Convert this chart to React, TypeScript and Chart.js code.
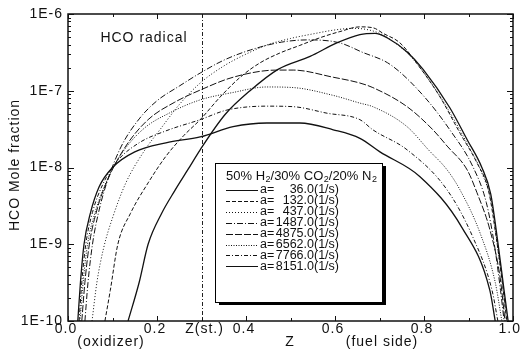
import React, { useEffect, useRef } from "react";
import { Chart, registerables } from "chart.js";

Chart.register(...registerables);

// ---- data (Z = mixture fraction, values = HCO mole fraction) ----
const strainLabels = ["36.0(1/s)", "132.0(1/s)", "437.0(1/s)", "1487.0(1/s)", "4875.0(1/s)", "6562.0(1/s)", "7766.0(1/s)", "8151.0(1/s)"];

const zA36 = [0.135, 0.16, 0.18, 0.21, 0.24, 0.27, 0.297, 0.353, 0.409, 0.472, 0.544, 0.604, 0.656, 0.69, 0.717, 0.762, 0.798, 0.858, 0.897, 0.93, 0.95, 0.966, 0.98, 0.989];
const vA36 = [1e-10, 3.2e-10, 1e-9, 2.5e-9, 5.0e-9, 9.5e-9, 1.7e-8, 4.9e-8, 1.0e-7, 1.9e-7, 2.8e-7, 4.2e-7, 5.4e-7, 5.6e-7, 4.9e-7, 3.2e-7, 1.9e-7, 6.0e-8, 2.3e-8, 1.0e-8, 4.5e-9, 1.05e-9, 2.5e-10, 1e-10];

const zA132 = [0.083, 0.095, 0.112, 0.14, 0.18, 0.22, 0.26, 0.297, 0.342, 0.387, 0.431, 0.476, 0.521, 0.566, 0.611, 0.656, 0.686, 0.708, 0.746, 0.791, 0.836, 0.881, 0.919, 0.945, 0.962, 0.976, 0.986];
const vA132 = [1e-10, 2.5e-10, 1e-9, 2.5e-9, 6.3e-9, 1.4e-8, 2.6e-8, 4.2e-8, 8.3e-8, 1.5e-7, 2.3e-7, 3.1e-7, 3.9e-7, 4.9e-7, 5.9e-7, 6.8e-7, 6.6e-7, 5.6e-7, 4.2e-7, 2.0e-7, 8.3e-8, 2.8e-8, 1.15e-8, 5.0e-9, 1.26e-9, 3.2e-10, 1e-10];

const zA437 = [0.054, 0.065, 0.08, 0.1, 0.13, 0.17, 0.21, 0.25, 0.297, 0.35, 0.4, 0.45, 0.5, 0.55, 0.6, 0.64, 0.67, 0.7, 0.73, 0.77, 0.82, 0.86, 0.9, 0.93, 0.953, 0.967, 0.978, 0.985];
const vA437 = [1e-10, 3.2e-10, 8.9e-10, 2.2e-9, 6.3e-9, 1.6e-8, 3.3e-8, 6.6e-8, 1.26e-7, 2.1e-7, 3.0e-7, 4.0e-7, 4.8e-7, 5.5e-7, 6.2e-7, 6.5e-7, 6.3e-7, 5.6e-7, 4.4e-7, 2.8e-7, 1.17e-7, 5.0e-8, 1.9e-8, 8.5e-9, 3.2e-9, 7.9e-10, 2.5e-10, 1e-10];

const zA1487 = [0.038, 0.045, 0.055, 0.07, 0.09, 0.12, 0.16, 0.2, 0.25, 0.297, 0.35, 0.41, 0.48, 0.54, 0.611, 0.66, 0.724, 0.798, 0.858, 0.91, 0.94, 0.958, 0.972, 0.98];
const vA1487 = [1e-10, 3.2e-10, 1e-9, 2.8e-9, 7.1e-9, 1.9e-8, 4.3e-8, 7.4e-8, 1.15e-7, 1.7e-7, 2.5e-7, 3.4e-7, 4.3e-7, 4.6e-7, 4.2e-7, 3.2e-7, 2.2e-7, 8.7e-8, 3.1e-8, 1.02e-8, 3.5e-9, 1e-9, 2.5e-10, 1e-10];

const zA4875 = [0.031, 0.038, 0.048, 0.065, 0.09, 0.13, 0.18, 0.24, 0.297, 0.371, 0.47, 0.506, 0.596, 0.656, 0.685, 0.762, 0.82, 0.852, 0.897, 0.919, 0.948, 0.971, 0.982];
const vA4875 = [1e-10, 3.2e-10, 1e-9, 2.8e-9, 7.1e-9, 1.9e-8, 4.2e-8, 7.1e-8, 1.02e-7, 1.5e-7, 1.86e-7, 1.86e-7, 1.5e-7, 1.26e-7, 1.1e-7, 6.2e-8, 3.1e-8, 1.9e-8, 9.3e-9, 4.7e-9, 1.55e-9, 3.7e-10, 1e-10];

const zA6562 = [0.027, 0.034, 0.044, 0.06, 0.085, 0.12, 0.17, 0.23, 0.297, 0.371, 0.447, 0.506, 0.596, 0.656, 0.685, 0.762, 0.81, 0.852, 0.881, 0.926, 0.96, 0.975];
const vA6562 = [1e-10, 3.2e-10, 1e-9, 2.5e-9, 6.3e-9, 1.5e-8, 3.2e-8, 5.2e-8, 7.6e-8, 9.5e-8, 1.12e-7, 1.1e-7, 8.7e-8, 6.9e-8, 6.2e-8, 3.4e-8, 1.7e-8, 9.3e-9, 5.1e-9, 1.4e-9, 3.2e-10, 1e-10];

const zA7766 = [0.025, 0.031, 0.04, 0.055, 0.078, 0.11, 0.16, 0.22, 0.297, 0.357, 0.447, 0.506, 0.582, 0.656, 0.685, 0.762, 0.852, 0.91, 0.953, 0.966];
const vA7766 = [1e-10, 3.2e-10, 1e-9, 2.6e-9, 6.0e-9, 1.2e-8, 2.1e-8, 3.0e-8, 4.2e-8, 5.6e-8, 6.3e-8, 6.2e-8, 5.1e-8, 4.2e-8, 3.1e-8, 1.7e-8, 5.1e-9, 1.23e-9, 2.5e-10, 1e-10];

const zA8151 = [0.022, 0.028, 0.036, 0.05, 0.07, 0.1, 0.15, 0.22, 0.297, 0.371, 0.447, 0.521, 0.596, 0.656, 0.701, 0.791, 0.885, 0.948, 0.96];
const vA8151 = [1e-10, 3.2e-10, 1e-9, 2.5e-9, 5.6e-9, 1.0e-8, 1.6e-8, 2.1e-8, 2.5e-8, 3.4e-8, 3.8e-8, 3.8e-8, 3.1e-8, 2.4e-8, 1.6e-8, 7.6e-9, 1.66e-9, 2.5e-10, 1e-10];

const xTickValues = [0, 0.2, 0.4, 0.6, 0.8, 1.0];
const xTickLabels = ["0.0", "0.2", "0.4", "0.6", "0.8", "1.0"];
const yTickValues = [1e-6, 1e-7, 1e-8, 1e-9, 1e-10];
const yTickLabels = ["1E-6", "1E-7", "1E-8", "1E-9", "1E-10"];
const Z_ST = 0.3;

const seriesZ = [zA36, zA132, zA437, zA1487, zA4875, zA6562, zA7766, zA8151];
const seriesV = [vA36, vA132, vA437, vA1487, vA4875, vA6562, vA7766, vA8151];
const dashes: number[][] = [[], [4, 2], [1, 2], [6, 2, 1, 2], [7, 2], [1, 1.5], [4, 2, 1, 2], []];

const FONT = "'Liberation Sans', Arial, sans-serif";

const decor = {
  id: "decor",
  beforeDatasetsDraw(chart: any) {
    const { ctx, chartArea: a, scales } = chart;
    const px = scales.x.getPixelForValue(Z_ST);
    ctx.save();
    ctx.strokeStyle = "#222";
    ctx.lineWidth = 1;
    ctx.setLineDash([4, 2, 1, 2]);
    ctx.beginPath();
    ctx.moveTo(Math.round(px) + 0.5, a.top);
    ctx.lineTo(Math.round(px) + 0.5, a.bottom);
    ctx.stroke();
    ctx.restore();
  },
  afterDraw(chart: any) {
    const { ctx, chartArea: a, scales } = chart;
    const xs = scales.x, ys = scales.y;
    ctx.save();
    ctx.setLineDash([]);
    ctx.strokeStyle = "#111";
    ctx.fillStyle = "#111";
    // frame
    ctx.lineWidth = 1.5;
    ctx.strokeRect(a.left, a.top, a.right - a.left, a.bottom - a.top);
    // x ticks
    ctx.lineWidth = 1;
    for (let i = 0; i <= 10; i++) {
      const v = i / 10;
      const p = Math.round(xs.getPixelForValue(v)) + 0.5;
      const len = i % 2 === 0 ? 5 : 3;
      ctx.beginPath();
      ctx.moveTo(p, a.bottom); ctx.lineTo(p, a.bottom - len);
      ctx.moveTo(p, a.top); ctx.lineTo(p, a.top + len);
      ctx.stroke();
    }
    // y ticks
    for (let e = -10; e <= -6; e++) {
      for (let m = 1; m <= 9; m++) {
        const v = m * Math.pow(10, e);
        if (v > 1e-6 * 1.0001) continue;
        const p = Math.round(ys.getPixelForValue(v)) + 0.5;
        const len = m === 1 ? 6 : 3;
        ctx.beginPath();
        ctx.moveTo(a.left, p); ctx.lineTo(a.left + len, p);
        ctx.moveTo(a.right, p); ctx.lineTo(a.right - len, p);
        ctx.stroke();
      }
    }
    // tick labels
    ctx.font = `14px ${FONT}`;
    (ctx as any).letterSpacing = "1px";
    ctx.textBaseline = "middle";
    ctx.textAlign = "right";
    yTickValues.forEach((v, i) => {
      ctx.fillText(yTickLabels[i], a.left - 5, ys.getPixelForValue(v));
    });
    ctx.textAlign = "center";
    xTickValues.forEach((v, i) => {
      const w = ctx.measureText(xTickLabels[i]).width;
      let p = xs.getPixelForValue(v) - 2;
      p = Math.min(p, chart.width - w / 2 - 1);
      ctx.fillText(xTickLabels[i], p, a.bottom + 8);
    });
    ctx.fillText("Z(st.)", xs.getPixelForValue(Z_ST) + 3, a.bottom + 8);
    // axis titles
    ctx.fillText("(oxidizer)", 111, a.bottom + 21);
    ctx.fillText("Z", 290, a.bottom + 21);
    ctx.fillText("(fuel side)", 382, a.bottom + 21);
    ctx.fillText("HCO radical", 144, 38);
    ctx.save();
    ctx.translate(15, 165);
    ctx.rotate(-Math.PI / 2);
    ctx.fillText("HCO Mole fraction", 0, 0);
    ctx.restore();
    (ctx as any).letterSpacing = "0px";

    // legend box
    const bx = 215, by = 163, bw = 167, bh = 139;
    ctx.fillStyle = "#000";
    ctx.fillRect(bx + 4, by + 3, bw, bh);
    ctx.fillStyle = "#fff";
    ctx.fillRect(bx, by, bw, bh);
    ctx.strokeStyle = "#000";
    ctx.lineWidth = 1;
    ctx.strokeRect(bx + 0.5, by + 0.5, bw, bh);
    ctx.fillStyle = "#111";
    ctx.textAlign = "left";
    ctx.textBaseline = "middle";
    // title with subscripts
    let tx = 226;
    const ty = 176;
    const parts: [string, boolean][] = [["50% H", false], ["2", true], ["/30% CO", false], ["2", true], ["/20% N", false], ["2", true]];
    parts.forEach(([t, sub]) => {
      ctx.font = sub ? `9px ${FONT}` : `13px ${FONT}`;
      ctx.fillText(t, tx, sub ? ty + 4 : ty);
      tx += ctx.measureText(t).width + (sub ? 0 : 0.5);
    });
    ctx.font = `12.5px ${FONT}`;
    chart.data.datasets.forEach((ds: any, i: number) => {
      const yy = 190 + i * 10.9;
      ctx.save();
      ctx.strokeStyle = "#111";
      ctx.lineWidth = 1;
      ctx.setLineDash(ds.borderDash || []);
      ctx.beginPath();
      ctx.moveTo(226, Math.round(yy) + 0.5);
      ctx.lineTo(258, Math.round(yy) + 0.5);
      ctx.stroke();
      ctx.restore();
      ctx.textAlign = "left";
      ctx.fillText("a=", 260, yy);
      ctx.textAlign = "right";
      ctx.fillText(ds.label, 339, yy);
    });
    ctx.restore();
  },
};

export default function App() {
  const ref = useRef<HTMLCanvasElement>(null);
  useEffect(() => {
    if (!ref.current) return;
    const datasets = seriesZ.map((zs, i) => ({
      label: strainLabels[i],
      data: zs.map((z, j) => ({ x: z, y: seriesV[i][j] })),
      borderColor: "#111",
      borderWidth: i === 0 || i === 7 ? 1.3 : 1,
      borderDash: dashes[i],
      pointRadius: 0,
      fill: false,
      cubicInterpolationMode: "monotone" as const,
    }));
    const chart = new Chart(ref.current, {
      type: "line",
      data: { datasets },
      options: {
        animation: false,
        responsive: false,
        maintainAspectRatio: false,
        layout: { padding: { left: 68, right: 9, top: 14, bottom: 40 } },
        plugins: { legend: { display: false }, tooltip: { enabled: false } },
        scales: {
          x: { type: "linear", min: 0, max: 1, display: false },
          y: { type: "logarithmic", min: 1e-10, max: 1e-6, display: false },
        },
      },
      plugins: [decor],
    });
    return () => chart.destroy();
  }, []);
  return (
    <div style={{ position: "fixed", left: 0, top: 0, width: 522, height: 361, background: "#fff" }}>
      <canvas ref={ref} width={522} height={361} style={{ width: 522, height: 361 }} />
    </div>
  );
}
